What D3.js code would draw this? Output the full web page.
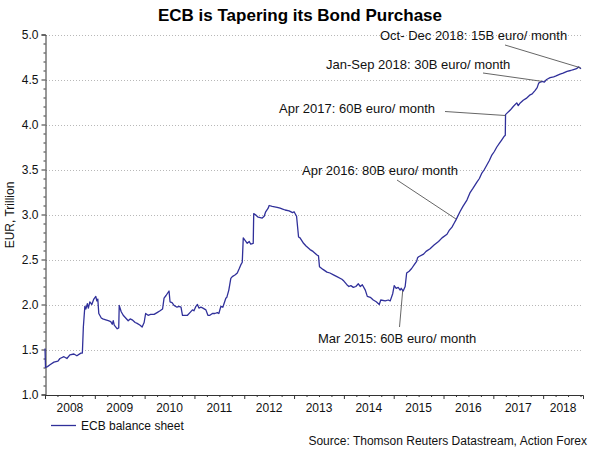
<!DOCTYPE html>
<html>
<head>
<meta charset="utf-8">
<script src="https://cdn.jsdelivr.net/npm/d3@7"></script>
<style>
  html, body { margin: 0; padding: 0; background: #fff; }
  svg { display: block; font-family: "Liberation Sans", Arial, sans-serif; }
</style>
</head>
<body>
<svg id="chart" width="600" height="450"></svg>
<script>
// ---------------- DATA ----------------
const title = "ECB is Tapering its Bond Purchase";
const yLabel = "EUR, Trillion";
const seriesName = "ECB balance sheet";
const sourceText = "Source: Thomson Reuters Datastream, Action Forex";
const yearLabels = ["2008","2009","2010","2011","2012","2013","2014","2015","2016","2017","2018"];
const yTickLabels = ["1.0","1.5","2.0","2.5","3.0","3.5","4.0","4.5","5.0"];

// time in decimal years
const times = [
  2008.00,2008.01,2008.05,2008.10,2008.18,2008.26,2008.30,2008.38,2008.44,2008.50,
  2008.58,2008.64,2008.72,2008.75,2008.77,2008.80,2008.82,2008.85,2008.87,2008.90,
  2008.94,2008.98,2009.02,2009.04,2009.06,2009.08,2009.13,2009.16,2009.22,2009.27,
  2009.32,2009.35,2009.37,2009.39,2009.45,2009.48,2009.49,2009.53,2009.57,2009.62,
  2009.67,2009.71,2009.75,2009.81,2009.85,2009.91,2009.95,2009.99,2010.02,2010.07,
  2010.12,2010.19,2010.25,2010.31,2010.36,2010.39,2010.43,2010.49,2010.51,2010.55,
  2010.59,2010.65,2010.69,2010.73,2010.76,2010.81,2010.86,2010.91,2010.96,2010.99,
  2011.03,2011.06,2011.09,2011.13,2011.17,2011.23,2011.27,2011.31,2011.36,2011.41,
  2011.46,2011.49,2011.53,2011.57,2011.63,2011.65,2011.69,2011.73,2011.76,2011.82,
  2011.86,2011.90,2011.93,2011.96,2011.98,2012.02,2012.06,2012.10,2012.13,2012.18,
  2012.19,2012.24,2012.28,2012.36,2012.40,2012.43,2012.48,2012.50,2012.56,2012.66,
  2012.72,2012.77,2012.82,2012.90,2012.97,2013.00,2013.05,2013.09,2013.12,2013.19,
  2013.24,2013.32,2013.38,2013.46,2013.49,2013.51,2013.58,2013.66,2013.72,2013.79,
  2013.86,2013.96,2014.00,2014.06,2014.10,2014.14,2014.19,2014.24,2014.29,2014.33,
  2014.37,2014.43,2014.47,2014.53,2014.59,2014.65,2014.71,2014.74,2014.83,2014.89,
  2014.93,2014.98,2015.01,2015.05,2015.09,2015.13,2015.15,2015.19,2015.23,2015.26,
  2015.31,2015.36,2015.41,2015.46,2015.48,2015.50,2015.60,2015.65,2015.73,2015.81,
  2015.90,2015.97,2016.07,2016.11,2016.17,2016.21,2016.25,2016.33,2016.39,2016.47,
  2016.53,2016.59,2016.67,2016.72,2016.77,2016.82,2016.87,2016.92,2016.97,2017.02,
  2017.07,2017.12,2017.17,2017.22,2017.24,2017.245,2017.30,2017.34,2017.40,2017.47,
  2017.50,2017.54,2017.60,2017.66,2017.74,2017.78,2017.84,2017.88,2017.91,2017.94,
  2017.99,2018.02,2018.07,2018.14,2018.21,2018.26,2018.34,2018.40,2018.48,2018.55,
  2018.61,2018.67,2018.71,2018.76
];
const balance = [
  1.51,1.30,1.31,1.33,1.36,1.37,1.40,1.42,1.40,1.44,
  1.45,1.43,1.46,1.46,1.75,1.98,1.95,2.01,1.96,2.03,
  2.00,2.06,2.09,2.04,2.06,1.90,1.85,1.84,1.83,1.82,
  1.81,1.78,1.82,1.77,1.73,1.74,1.99,1.92,1.88,1.85,
  1.82,1.84,1.83,1.80,1.79,1.77,1.75,1.80,1.90,1.88,
  1.89,1.89,1.91,1.93,1.95,2.07,2.10,2.15,2.03,2.02,
  1.99,1.97,1.98,1.97,1.88,1.88,1.88,1.91,1.94,1.93,
  1.98,2.00,1.96,1.97,1.96,1.94,1.88,1.88,1.90,1.90,
  1.91,1.90,1.98,1.97,2.07,2.08,2.16,2.29,2.31,2.33,
  2.35,2.40,2.44,2.47,2.74,2.71,2.68,2.70,2.67,2.68,
  3.01,2.99,2.97,2.96,2.98,3.03,3.07,3.10,3.09,3.08,
  3.07,3.06,3.05,3.04,3.02,3.03,2.98,2.75,2.74,2.68,
  2.65,2.61,2.59,2.55,2.54,2.42,2.39,2.36,2.35,2.33,
  2.31,2.28,2.26,2.22,2.20,2.21,2.19,2.20,2.23,2.20,
  2.22,2.16,2.09,2.08,2.05,2.03,2.00,2.05,2.04,2.05,
  2.04,2.12,2.21,2.18,2.19,2.16,2.18,2.15,2.20,2.35,
  2.37,2.40,2.44,2.48,2.52,2.53,2.56,2.59,2.62,2.66,
  2.70,2.74,2.78,2.82,2.86,2.90,2.94,3.03,3.09,3.16,
  3.24,3.29,3.36,3.40,3.46,3.50,3.55,3.60,3.66,3.70,
  3.75,3.79,3.83,3.87,3.88,4.11,4.14,4.16,4.20,4.24,
  4.21,4.24,4.27,4.29,4.33,4.34,4.38,4.41,4.46,4.47,
  4.48,4.47,4.50,4.52,4.53,4.54,4.56,4.57,4.59,4.60,
  4.61,4.62,4.64,4.62
];

// annotations: text and anchor point on the series (data space)
const annoTexts = [
  "Oct- Dec 2018: 15B euro/ month",
  "Jan-Sep 2018: 30B euro/ month",
  "Apr 2017: 60B euro/ month",
  "Apr 2016: 80B euro/ month",
  "Mar 2015: 60B euro/ month"
];
const annoTimes = [2018.75, 2017.97, 2017.24, 2016.25, 2015.18];
const annoValues = [4.63, 4.48, 4.10, 2.95, 2.15];

// ---------------- LAYOUT ----------------
const plot = { left: 45, right: 583, top: 34.5, bottom: 394.5 };
const xDomain = [2008, 2018.8];
const yDomain = [1.0, 5.0];
// text placement (pixels) and leader-line start for each annotation
const annoLayout = [
  { tx: 380, ty: 40, lx: 505, ly: 45 },
  { tx: 326, ty: 69, lx: 483, ly: 73 },
  { tx: 279, ty: 113, lx: 445, ly: 111.5 },
  { tx: 302, ty: 175, lx: 397, ly: 180 },
  { tx: 318, ty: 343, lx: 399.5, ly: 327 }
];
const lineColor = "#30309a";

// ---------------- DRAW ----------------
const svg = d3.select("#chart");
const x = d3.scaleLinear().domain(xDomain).range([plot.left, plot.right]);
const y = d3.scaleLinear().domain(yDomain).range([plot.bottom, plot.top]);

const yMajor = yTickLabels.map(Number);
const yMinor = d3.range(10, 51).map(d => d / 10).filter(v => Math.abs(v * 2 - Math.round(v * 2)) > 1e-6);

// gridlines
svg.append("g").selectAll("line")
  .data(yMajor.filter(v => v > yDomain[0]))
  .join("line")
  .attr("x1", plot.left + 1).attr("x2", plot.right)
  .attr("y1", d => Math.round(y(d)) + 0.5).attr("y2", d => Math.round(y(d)) + 0.5)
  .attr("stroke", "#b8b8b8").attr("stroke-width", 1)
  .attr("stroke-dasharray", "1,2");

// y axis
const yAxis = d3.axisLeft(y).tickValues(yMajor)
  .tickFormat((d, i) => yTickLabels[i]).tickSize(4).tickPadding(3);
const gy = svg.append("g").attr("transform", `translate(${plot.left + 0.5},0)`).call(yAxis);
gy.select(".domain").attr("stroke", "#333");
gy.selectAll(".tick line").attr("stroke", "#333");
gy.selectAll(".tick text").attr("font-size", 12).attr("fill", "#111")
  .attr("font-family", "Liberation Sans, Arial, sans-serif");
const gyMinor = svg.append("g").attr("transform", `translate(${plot.left + 0.5},0)`)
  .call(d3.axisLeft(y).tickValues(yMinor).tickSize(2).tickFormat(""));
gyMinor.select(".domain").remove();
gyMinor.selectAll(".tick line").attr("stroke", "#333");

// x axis
const years = yearLabels.map(Number);
const xMajor = years.filter(v => v >= xDomain[0] && v <= xDomain[1]);
const xMinor = [];
years.forEach(yr => [0.25, 0.5, 0.75].forEach(q => { if (yr + q <= xDomain[1]) xMinor.push(yr + q); }));
const gx = svg.append("g").attr("transform", `translate(0,${plot.bottom + 0.5})`)
  .call(d3.axisBottom(x).tickValues(xMajor).tickSize(4).tickFormat(""));
gx.select(".domain").attr("stroke", "#333");
gx.selectAll(".tick line").attr("stroke", "#333");
const gxMinor = svg.append("g").attr("transform", `translate(0,${plot.bottom + 0.5})`)
  .call(d3.axisBottom(x).tickValues(xMinor).tickSize(2).tickFormat(""));
gxMinor.select(".domain").remove();
gxMinor.selectAll(".tick line").attr("stroke", "#333");

// year labels centred within each (visible) year
svg.append("g").selectAll("text")
  .data(years)
  .join("text")
  .attr("x", d => x((Math.max(d, xDomain[0]) + Math.min(d + 1, xDomain[1])) / 2))
  .attr("y", 412)
  .attr("text-anchor", "middle")
  .attr("font-size", 12).attr("fill", "#111")
  .text((d, i) => yearLabels[i]);

// series line
const pts = times.map((t, i) => [t, balance[i]]);
svg.append("path")
  .datum(pts)
  .attr("d", d3.line().x(d => x(d[0])).y(d => y(d[1])))
  .attr("fill", "none")
  .attr("stroke", lineColor)
  .attr("stroke-width", 1.3)
  .attr("stroke-linejoin", "round");

// annotations
annoTexts.forEach((txt, i) => {
  const L = annoLayout[i];
  svg.append("line")
    .attr("x1", L.lx).attr("y1", L.ly)
    .attr("x2", x(annoTimes[i])).attr("y2", y(annoValues[i]))
    .attr("stroke", "#555").attr("stroke-width", 0.9);
  svg.append("text")
    .attr("x", L.tx).attr("y", L.ty)
    .attr("font-size", 13).attr("fill", "#111")
    .text(txt);
});

// title
svg.append("text")
  .attr("x", 300).attr("y", 21)
  .attr("text-anchor", "middle")
  .attr("font-size", 17).attr("font-weight", "bold").attr("fill", "#000")
  .text(title);

// y label
svg.append("text")
  .attr("transform", "translate(14,215) rotate(-90)")
  .attr("text-anchor", "middle")
  .attr("font-size", 12).attr("fill", "#111")
  .text(yLabel);

// legend
svg.append("line")
  .attr("x1", 51).attr("x2", 76).attr("y1", 425.5).attr("y2", 425.5)
  .attr("stroke", lineColor).attr("stroke-width", 1.3);
svg.append("text")
  .attr("x", 81).attr("y", 429.5)
  .attr("font-size", 12).attr("fill", "#111")
  .text(seriesName);

// source
svg.append("text")
  .attr("x", 587).attr("y", 445)
  .attr("text-anchor", "end")
  .attr("font-size", 12).attr("fill", "#111")
  .text(sourceText);
</script>
</body>
</html>
